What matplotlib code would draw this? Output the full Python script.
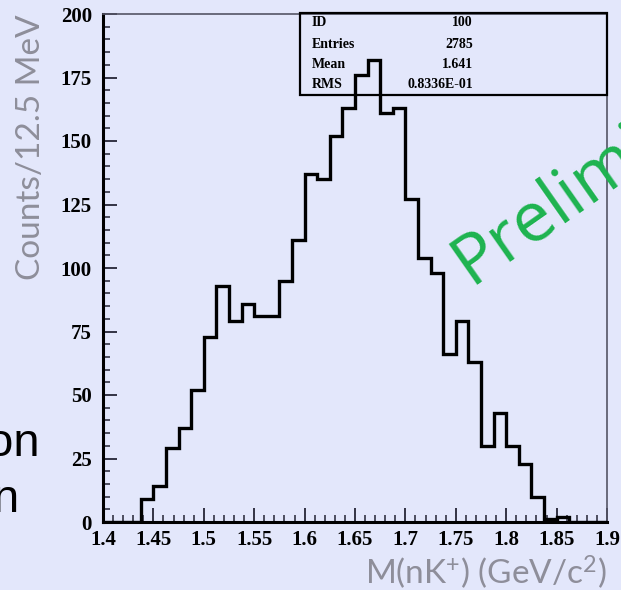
import matplotlib

matplotlib.use("Agg")
import matplotlib.pyplot as plt
import numpy as np
from matplotlib.ticker import MultipleLocator

# invariant mass histogram, 40 bins of 12.5 MeV between 1.4 and 1.9 GeV/c^2
bin_lo = 1.4
bin_hi = 1.9
n_bins = 40
counts = [0, 0, 0, 9, 14, 29, 37, 52, 73, 93,
          79, 86, 81, 81, 95, 111, 137, 135, 152, 163,
          176, 182, 161, 163, 127, 104, 98, 66, 79, 63,
          30, 43, 30, 23, 10, 1, 2, 0, 0, 0]

stat_names = ["ID", "Entries", "Mean", "RMS"]
stat_values = ["100", "2785", "1.641", "0.8336E-01"]

x_ticks = [1.4, 1.45, 1.5, 1.55, 1.6, 1.65, 1.7, 1.75, 1.8, 1.85, 1.9]
x_ticklabels = ["1.4", "1.45", "1.5", "1.55", "1.6", "1.65", "1.7", "1.75", "1.8", "1.85", "1.9"]
y_ticks = [0, 25, 50, 75, 100, 125, 150, 175, 200]

BG = "#e3e7fb"
W, H = 621, 590

# mathtext in the same sans as the axis titles
plt.rcParams["mathtext.fontset"] = "custom"
plt.rcParams["mathtext.rm"] = "Lato"
plt.rcParams["mathtext.it"] = "Lato"

fig = plt.figure(figsize=(W / 100, H / 100), dpi=100, facecolor=BG)
ax = fig.add_axes([103 / W, 1 - 522 / H, (607 - 103) / W, (522 - 14) / H])
ax.set_facecolor(BG)

edges = np.linspace(bin_lo, bin_hi, n_bins + 1)
ax.stairs(counts, edges, color="black", lw=2.4, zorder=5)

ax.set_xlim(bin_lo, bin_hi)
ax.set_ylim(0, 200)

# spines: PAW style, heavy left/bottom, thin grey top/right
for side in ("left", "bottom"):
    ax.spines[side].set_linewidth(2.2)
    ax.spines[side].set_color("black")
for side in ("top", "right"):
    ax.spines[side].set_linewidth(1.2)
    ax.spines[side].set_color("#555566")

ax.set_xticks(x_ticks)
ax.set_xticklabels(x_ticklabels)
ax.set_yticks(y_ticks)
ax.xaxis.set_minor_locator(MultipleLocator(0.01))
ax.yaxis.set_minor_locator(MultipleLocator(5))
ax.tick_params(which="both", direction="in", top=False, right=False, color="#333344")
ax.tick_params(which="major", length=10, width=1.4)
ax.tick_params(which="minor", length=5, width=1.2)
ax.tick_params(axis="x", pad=6)
ax.tick_params(axis="y", pad=8)
for lab in ax.get_xticklabels() + ax.get_yticklabels():
    lab.set_fontfamily("Liberation Serif")
    lab.set_fontweight("bold")
    lab.set_fontsize(15)

# stats box
box = plt.Rectangle((300 / W, 1 - 95 / H), (607 - 300) / W, (95 - 13) / H,
                    transform=fig.transFigure, facecolor="none",
                    edgecolor="black", lw=1.6, zorder=3)
fig.add_artist(box)
row_y = [23, 44, 64, 84]
for name, val, yy in zip(stat_names, stat_values, row_y):
    fig.text(312 / W, 1 - yy / H, name, ha="left", va="center",
             family="Liberation Serif", weight="bold", fontsize=10)
    fig.text(473 / W, 1 - yy / H, val, ha="right", va="center",
             family="Liberation Serif", weight="bold", fontsize=10)

# axis titles (thin grey sans as on the slide)
fig.text(31 / W, 1 - 147 / H, "Counts/12.5 MeV", rotation=90, ha="center", va="center",
         family="Lato", fontsize=24, color="#8e8e9a")
fig.text(607 / W, 1 - 572 / H, "M(nK$^{+}$) (GeV/c$^{2}$)", ha="right", va="center",
         family="Lato", fontsize=24, color="#8e8e9a")

# watermark
fig.text(470 / W, 1 - 285 / H, "Preliminary", rotation=35, ha="left", va="baseline",
         rotation_mode="anchor", family="Open Sans", fontsize=50, color="#1db34f")

# pieces of slide text cut by the crop
fig.text(40 / W, 1 - 456 / H, "on", ha="right", va="baseline",
         family="Liberation Sans", fontsize=34, color="black")
fig.text(19 / W, 1 - 512 / H, "n", ha="right", va="baseline",
         family="Liberation Sans", fontsize=34, color="black")

fig.savefig("out.png", dpi=100, facecolor=BG)
